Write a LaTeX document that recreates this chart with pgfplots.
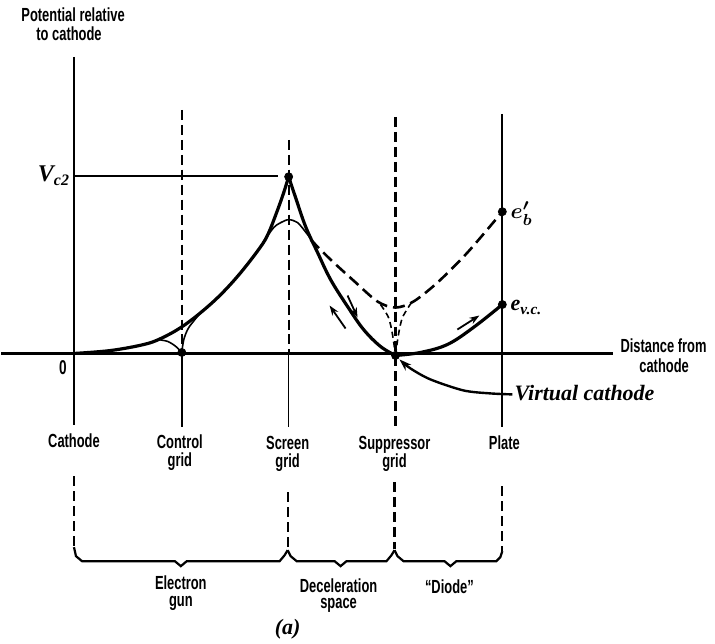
\documentclass[border=0pt]{standalone}
\usepackage{pgfplots}
\pgfplotsset{compat=1.18}
\usetikzlibrary{arrows.meta}
\usepackage{fontspec}
\newfontfamily\lab[FakeStretch=0.68]{Liberation Sans Bold}
\newfontfamily\ser{Liberation Serif}
\tikzset{
  lbl/.style={font=\lab\fontsize{9.5}{10}\selectfont, inner sep=0pt, anchor=base},
  thickc/.style={black, line width=1.6pt, line cap=round, line join=round},
  thinc/.style={black, line width=0.8pt},
  ax/.style={black, line width=1.1pt},
  vdash/.style={black, line width=1.1pt, dash pattern=on 5pt off 2.5pt},
  cdash/.style={black, line width=1.3pt, dash pattern=on 6pt off 3pt},
  sdash/.style={black, line width=0.8pt, dash pattern=on 3pt off 2pt},
  arr/.style={black, line width=0.9pt, -{Stealth[length=5pt,width=3.5pt]}},
  it/.style={font=\ser\bfseries\itshape\fontsize{11}{11}\selectfont, inner sep=0pt},
}
\begin{document}
\begin{tikzpicture}
\begin{axis}[x=0.5pt, y=0.5pt, y dir=reverse,
  xmin=0, xmax=715, ymin=0, ymax=644,
  hide axis, clip=false]
% frame of the picture (pixel units of the reference)
\addplot[draw=none] coordinates {(0,0) (715,644)};

% axes
\addplot[ax] coordinates {(73,57) (73,426)};
\addplot[ax] coordinates {(0,354) (613,354)};
\addplot[ax] coordinates {(73,176) (277,176)};

% grid lines, upper part
\addplot[vdash] coordinates {(181,110) (181,354)};
\addplot[thinc] coordinates {(181,354) (181,428)};
\addplot[vdash] coordinates {(288,140) (288,354)};
\addplot[thinc] coordinates {(288,354) (288,428)};
\addplot[vdash] coordinates {(395,117) (395,428)};
\addplot[ax] coordinates {(502,114) (502,428)};

% grid lines, lower part
\addplot[vdash] coordinates {(73,477) (73,548)};
\addplot[vdash] coordinates {(287,493) (287,550)};
\addplot[vdash] coordinates {(394,483) (394,550)};
\addplot[vdash] coordinates {(502,487) (502,552)};

% braces
\addplot[ax] coordinates {(73,548) (75,557) (81,562) (174,562) (180,567) (186,562) (279,562) (284,556) (287,551)};
\addplot[ax] coordinates {(287,551) (290,557) (296,562) (334,562) (340,567) (346,562) (386,562) (391,556) (394,551)};
\addplot[ax] coordinates {(394,551) (397,557) (403,562) (444,562) (450,567) (456,562) (496,562) (500,558) (502,552)};

% potential curve, solid
\addplot[thickc, smooth, tension=0.6] coordinates {
  (73,354) (110,351) (143,345) (160,339) (180,328) (200,313) (220,295)
  (240,273) (260,247) (268,233) (277,210) (283,193) (288,177)};
\addplot[thickc, smooth, tension=0.6] coordinates {
  (288,177) (295,198) (305,227) (317,253) (330,280) (347,307) (363,330) (380,347) (395,356)};
\addplot[thickc, smooth, tension=0.6] coordinates {
  (395,356) (420,353) (447,345) (473,328) (502,305)};

% rounded screen-grid peak
\addplot[thinc, smooth] coordinates {
  (262,243) (273,228) (280,223) (288,220) (297,223) (307,235) (312,242)};
% control-grid cusp
\addplot[thinc, smooth] coordinates {(157,340) (167,342) (175,347) (181,353)};
\addplot[thinc, smooth] coordinates {(181,353) (183,340) (188,328) (200,313)};

% dashed curve
\addplot[cdash, smooth] coordinates {
  (310,240) (330,260) (353,281) (377,302) (395,308) (413,302) (437,283) (467,253) (502,212)};
\addplot[sdash, smooth] coordinates {(380,305) (388,318) (392,335) (395,356)};
\addplot[sdash, smooth] coordinates {(411,303) (402,318) (398,335) (395,356)};

% arrows
\addplot[arr] coordinates {(347,296) (357,318)};
\addplot[arr] coordinates {(345,329) (329,306)};
\addplot[arr] coordinates {(457,330) (479,316)};
\addplot[black, line width=1.2pt, smooth, -{Stealth[length=6pt,width=4pt]}] coordinates {
  (512,395) (490,394) (463,391) (430,380) (410,369) (399,360)};

% dots
\addplot[only marks, mark=*, mark size=2pt, black] coordinates {
  (181,353) (288,177) (395,356) (502,212) (502,305)};

% texts
\node[lbl, anchor=base west] at (axis cs:20,22) {Potential relative};
\node[lbl, anchor=base west] at (axis cs:35,41) {to cathode};
\node[font=\ser\bfseries\itshape\fontsize{12}{12}\selectfont, inner sep=0pt] at (axis cs:53,176) {V\textsubscript{c2}};
\node[font=\lab\fontsize{10}{10}\selectfont, inner sep=0pt] at (axis cs:62,368) {0};
\node[inner sep=0pt, anchor=west, font=\fontsize{11}{11}\selectfont\boldmath] at (axis cs:510,214) {$e_{b}^{\prime}$};
\node[it, anchor=west] at (axis cs:510,308) {e\textsubscript{v.c.}};
\node[lbl, anchor=base west] at (axis cs:620,353) {Distance from};
\node[lbl] at (axis cs:664,373) {cathode};
\node[it, anchor=base west] at (axis cs:514,401) {Virtual cathode};

\node[lbl] at (axis cs:73,448) {Cathode};
\node[lbl] at (axis cs:179,449) {Control};
\node[lbl] at (axis cs:179,467) {grid};
\node[lbl] at (axis cs:287,450) {Screen};
\node[lbl] at (axis cs:287,468) {grid};
\node[lbl] at (axis cs:394,450) {Suppressor};
\node[lbl] at (axis cs:394,468) {grid};
\node[lbl] at (axis cs:504,450) {Plate};

\node[lbl] at (axis cs:180,590) {Electron};
\node[lbl] at (axis cs:180,607) {gun};
\node[lbl] at (axis cs:338,593) {Deceleration};
\node[lbl] at (axis cs:338,609) {space};
\node[lbl] at (axis cs:449,594) {\textquotedblleft Diode\textquotedblright};
\node[it] at (axis cs:287,630) {(a)};
\end{axis}
\end{tikzpicture}
\end{document}
